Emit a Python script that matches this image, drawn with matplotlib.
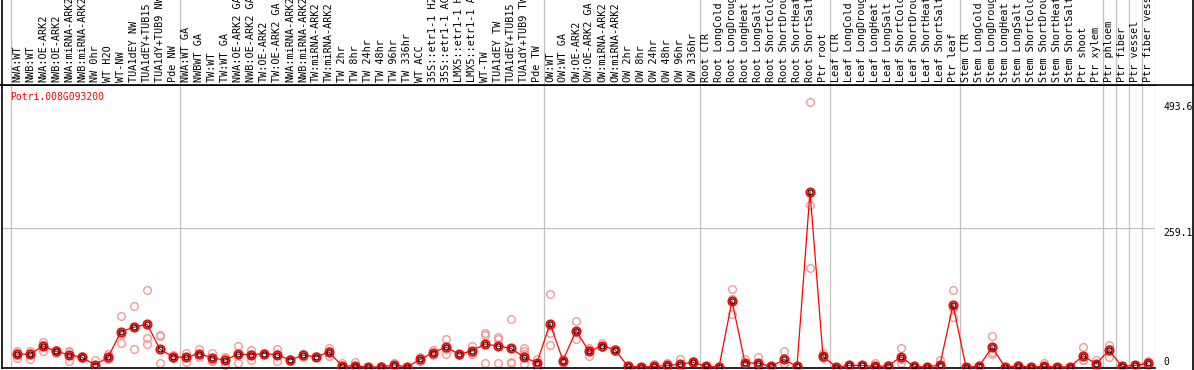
import matplotlib
matplotlib.use("Agg")
import matplotlib.pyplot as plt
from matplotlib.lines import Line2D
from matplotlib.transforms import blended_transform_factory

# sample labels, left to right
labels = [
    "NWA:WT", "NWB:WT", "NWA:OE-ARK2", "NWB:OE-ARK2", "NWA:miRNA-ARK2", "NWB:miRNA-ARK2",
    "NW 0hr", "WT H2O", "WT-NW", "TUA1dEY NW", "TUA1dEY+TUB15", "TUA1dY+TUB9 NW", "Pde NW",
    "NWA:WT GA", "NWBWT GA", "TW:WT", "TW:WT GA", "NWA:OE-ARK2 GA", "NWB:OE-ARK2 GA",
    "TW:OE-ARK2", "TW:OE-ARK2 GA", "NWA:miRNA-ARK2", "NWB:miRNA-ARK2", "TW:miRNA-ARK2",
    "TW:miRNA-ARK2", "TW 2hr", "TW 8hr", "TW 24hr", "TW 48hr", "TW 96hr", "TW 336hr",
    "WT ACC", "35S::etr1-1 H2O", "35S::etr1-1 ACC", "LMX5::etr1-1 H2O", "LMX5::etr1-1 ACC",
    "WT-TW", "TUA1dEY TW", "TUA1dEY+TUB15", "TUA1dY+TUB9 TW", "Pde TW",
    "OW:WT", "OW:WT GA", "OW:OE-ARK2", "OW:OE-ARK2 GA", "OW:miRNA-ARK2", "OW:miRNA-ARK2",
    "OW 2hr", "OW 8hr", "OW 24hr", "OW 48hr", "OW 96hr", "OW 336hr",
    "Root CTR", "Root LongCold", "Root LongDrought", "Root LongHeat", "Root LongSalt",
    "Root ShortCold", "Root ShortDrought", "Root ShortHeat", "Root ShortSalt", "Ptr root",
    "Leaf CTR", "Leaf LongCold", "Leaf LongDrought", "Leaf LongHeat", "Leaf LongSalt",
    "Leaf ShortCold", "Leaf ShortDrought", "Leaf ShortHeat", "Leaf ShortSalt", "Ptr leaf",
    "Stem CTR", "Stem LongCold", "Stem LongDrought", "Stem LongHeat", "Stem LongSalt",
    "Stem ShortCold", "Stem ShortDrought", "Stem ShortHeat", "Stem ShortSalt",
    "Ptr shoot", "Ptr xylem", "Ptr phloem", "Ptr fiber", "Ptr vessel", "Ptr fiber vessel",
]

# separators sit after these column indices
group_ends = [-1, 12, 40, 52, 62, 72, 83, 84, 85, 86, 87]

means = [
    24, 24, 39, 29, 23, 18, 4, 18, 66, 74, 80, 33, 19,
    18, 25, 17, 13, 24, 23, 25, 23, 13, 22, 19, 28, 2, 2, 0, 0, 4, 0,
    14, 27, 37, 24, 30, 43, 39, 35, 18, 8,
    81, 12, 68, 29, 40, 32, 1, 0, 1, 3, 5, 9,
    1, 0, 123, 8, 7, 1, 14, 1, 327, 20,
    0, 3, 3, 1, 2, 19, 1, 0, 4, 116,
    0, 1, 37, 0, 2, 0, 1, 0, 0, 21, 6,
    31, 1, 3, 7,
]

replicates = [
    [30, 16, 26], [30, 15, 27], [47, 29, 41], [29, 31, 27], [30, 11, 28], [20, 16, 18],
    [13, 0, 0], [25, 14, 15], [95, 44, 60], [114, 33, 75], [143, 54, 43], [60, 57, 8],
    [22, 16, 19],
    [27, 9, 18], [34, 18, 24], [27, 12, 12], [18, 4, 17], [39, 8, 25], [31, 13, 25],
    [27, 24, 24], [33, 12, 24], [15, 11, 13], [24, 18, 24], [19, 20, 18], [35, 20, 29],
    [7, 0, 0], [9, 0, 0], [0, 0, 0], [1, 0, 0], [7, 3, 2], [0, 0, 0],
    [19, 12, 11], [32, 22, 27], [52, 25, 34], [25, 23, 24], [39, 24, 27], [63, 60, 8],
    [56, 53, 7], [89, 10, 7], [35, 30, 25, 6], [14, 5, 0],
    [137, 63, 41], [13, 8, 15], [86, 52, 66], [36, 20, 31], [44, 38, 38], [32, 30, 34],
    [1, 0, 0], [0, 0, 0], [5, 0, 0], [8, 1, 0], [14, 2, 1], [12, 9, 7],
    [2, 1, 0], [0, 0, 0], [145, 98, 126], [14, 5, 5], [18, 2, 1], [2, 1, 0],
    [29, 6, 7], [1, 0, 1], [493.6, 302, 185], [27, 16, 18],
    [0, 0, 0], [4, 3, 2], [4, 3, 2], [7, 0, 0], [3, 2, 1], [35, 8, 14],
    [1, 0, 1], [0, 0, 0], [13, 0, 0], [143, 94, 110],
    [0, 0, 0], [2, 1, 0], [58, 25, 28], [0, 0, 0], [4, 2, 1], [0, 0, 0],
    [7, 0, 0], [0, 0, 0], [0, 0, 0], [37, 13, 13], [13, 2, 3],
    [41, 18, 34], [1, 1, 0], [3, 3, 2], [12, 5, 4],
]

gene = "Potri.008G093200"
y_labels = [0, 259.1, 493.6]

W, H = 1194, 370
fig = plt.figure(figsize=(W / 100, H / 100), dpi=100)
mono = "DejaVu Sans Mono"
grey = "#c0c0c0"

# pixel geometry of the plot box
left_px, right_px, top_px, bot_px = 2, 1155, 85, 368
x0_px, step_px = 17, 13
xlo = (left_px - x0_px) / step_px
xhi = (right_px - x0_px) / step_px

ax = fig.add_axes([left_px / W, (H - bot_px) / H, (right_px - left_px) / W, (bot_px - top_px) / H])
hdr = fig.add_axes([left_px / W, (H - top_px) / H, (right_px - left_px) / W, top_px / H])

px_per_unit = 139 / 259.1
ax.set_xlim(xlo, xhi)
ax.set_ylim(-1 / px_per_unit, (367 - top_px) / px_per_unit)
hdr.set_xlim(xlo, xhi)
hdr.set_ylim(0, top_px)

for a in (ax, hdr):
    a.set_xticks([])
    a.set_yticks([])
    for e in group_ends:
        a.axvline(e + 0.5, color=grey, lw=0.9, zorder=1)

for s in ("top", "right"):
    hdr.spines[s].set_visible(False)
hdr.spines["bottom"].set_visible(False)
ax.spines["right"].set_visible(False)
for s in ("left", "bottom", "top"):
    ax.spines[s].set_color("black")
    ax.spines[s].set_linewidth(1.2)
hdr.spines["left"].set_linewidth(1.2)

ax.axhline(y_labels[1], color=grey, lw=0.9, zorder=1)

x = list(range(len(means)))
for i, reps in enumerate(replicates):
    ax.plot([i] * len(reps), reps, "o", ms=5.5, mfc="none", mec="#f09a9a", mew=1.0,
            zorder=2, clip_on=False)
ax.plot(x, means, "-", color="red", lw=0.9, zorder=3)
ax.plot(x, means, "o", ms=6, mfc="none", mec="red", mew=1.3, zorder=4)
ax.plot(x, means, "o", ms=3.6, mfc="none", mec="black", mew=0.8, zorder=5)

ax.text(0.007, 0.975, gene, transform=ax.transAxes, color="red", fontsize=7,
        family=mono, va="top", ha="left")

tr = blended_transform_factory(ax.transAxes, ax.transData)
for v in y_labels:
    ax.text(1.007, v, "0" if v == 0 else f"{v:.1f}", transform=tr, fontsize=7,
            family=mono, ha="left", va="bottom" if v == 0 else "top", clip_on=False)

for i, lab in enumerate(labels):
    hdr.text(i, 3, lab, rotation=90, ha="center", va="bottom", fontsize=7.3,
             family=mono, clip_on=True)

# outer frame bits: header rule across full width, right edge
fig.add_artist(Line2D([0, 1], [(H - top_px) / H] * 2, color="black", lw=1.2))
fig.add_artist(Line2D([1193 / W] * 2, [0, 1], color="black", lw=1.2))

fig.savefig("out.png", dpi=100)
